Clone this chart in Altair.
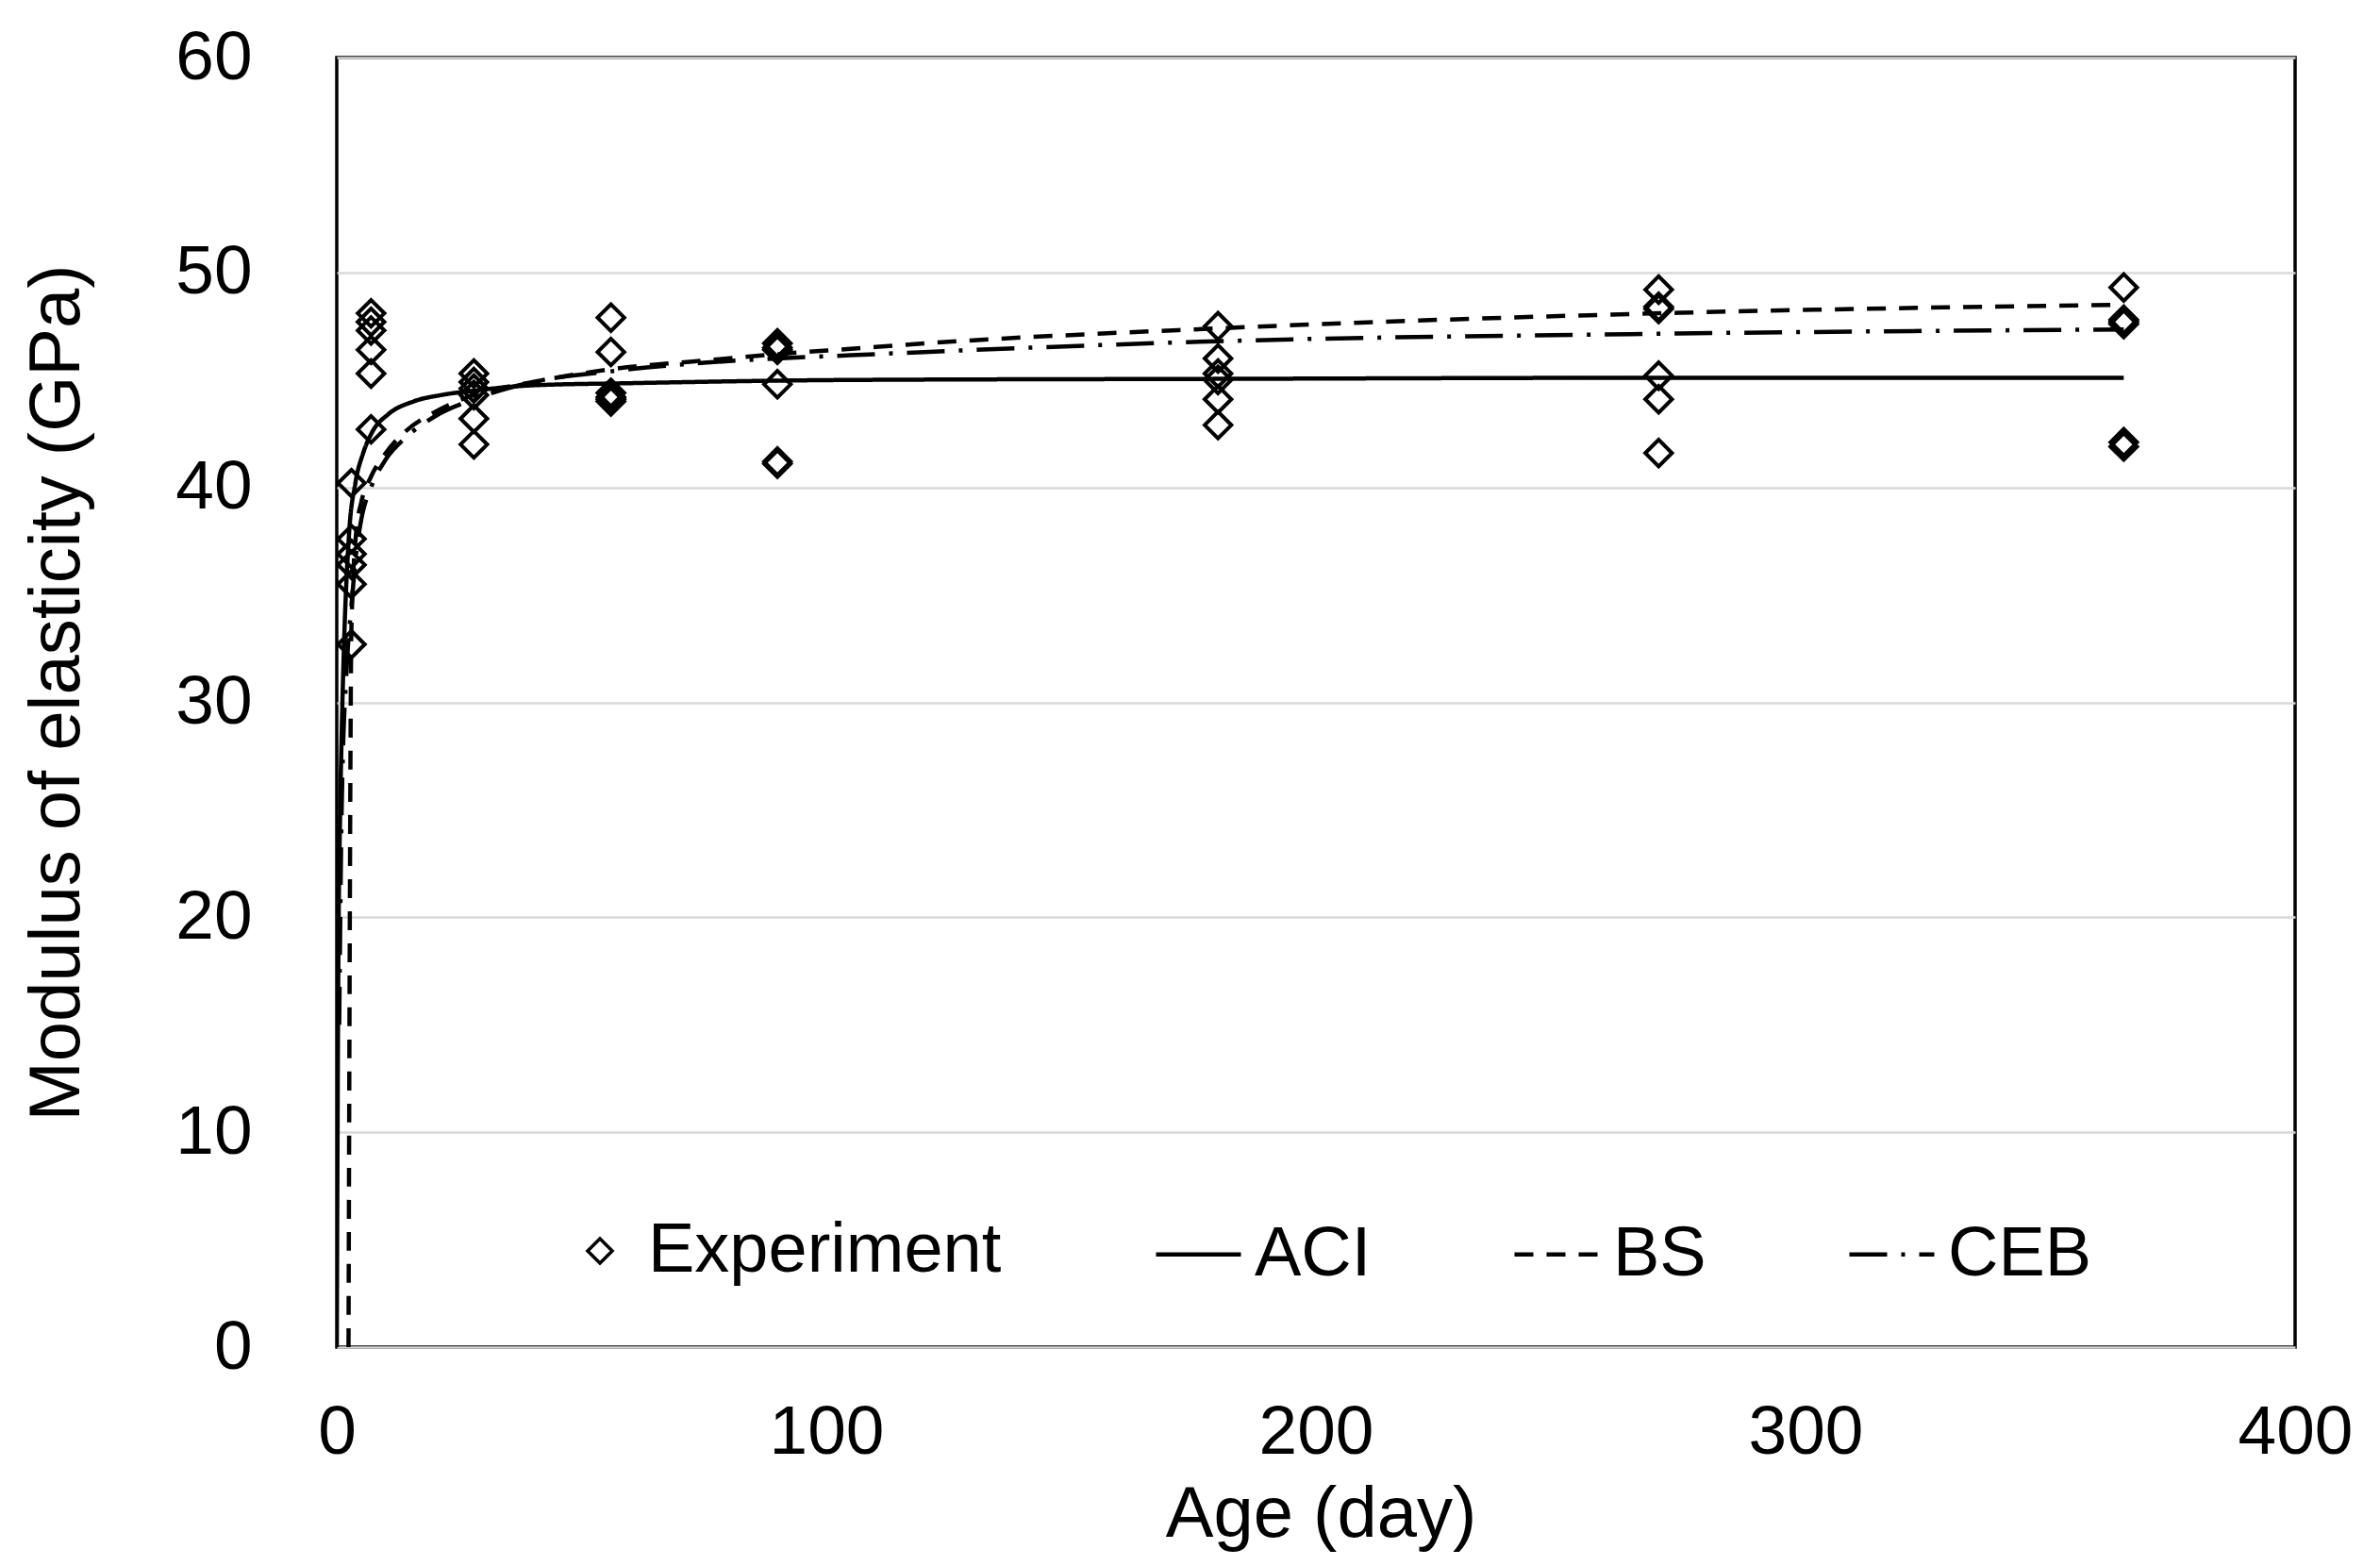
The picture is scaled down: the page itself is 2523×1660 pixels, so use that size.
import altair as alt
import pandas as pd

# ---------------- data ----------------
exp_age = ([3] * 6 + [7] * 6 + [28] * 6 + [56] * 6 + [90] * 6 +
           [180] * 6 + [270] * 6 + [365] * 6)
exp_E = [40.2, 37.6, 36.9, 36.4, 35.5, 32.7,
         48.1, 47.7, 47.3, 46.4, 45.3, 42.7,
         45.3, 44.9, 44.6, 44.3, 43.2, 42.0,
         47.9, 46.3, 44.4, 44.2, 44.1, 44.0,
         46.7, 46.5, 46.4, 44.8, 41.2, 41.1,
         47.5, 46.0, 45.3, 45.0, 44.1, 42.9,
         49.2, 48.4, 48.3, 45.2, 44.1, 41.6,
         49.3, 47.8, 47.7, 47.6, 42.1, 41.9]

aci_age = [0, 0.3, 0.7, 1, 1.5, 2.5, 3.8, 5.4, 7.3, 10.5, 15.7, 21.4, 28,
           40, 60, 105, 180, 270, 365]
aci_E = [0, 17, 25, 28.5, 32.8, 37.8, 40.2, 41.6, 42.6, 43.4, 44.0, 44.3, 44.5,
         44.75, 44.85, 45.0, 45.05, 45.1, 45.1]

bs_age = [2.4, 3, 4, 5, 7, 10, 14, 20, 28, 40, 56, 75, 90, 105, 120, 180, 270, 365]
bs_E = [0, 33.5, 38.0, 39.3, 40.5, 41.6, 42.6, 43.5, 44.3, 44.9, 45.5, 45.9,
        46.2, 46.45, 46.7, 47.4, 48.1, 48.5]

ceb_age = [0.5, 1, 2, 3, 4, 5, 7, 10, 14, 20, 28, 40, 56, 75, 90, 105, 120,
           180, 270, 365]
ceb_E = [15, 25, 31.5, 34.5, 37.0, 38.5, 40.0, 41.3, 42.3, 43.3, 44.1, 44.9,
         45.4, 45.8, 46.0, 46.15, 46.3, 46.8, 47.15, 47.35]

x_ticks = [0, 100, 200, 300, 400]
y_ticks = [0, 10, 20, 30, 40, 50, 60]

# ---------------- tables ----------------
exp_df = pd.DataFrame({"age": exp_age, "E": exp_E, "series": "Experiment"})
model_df = pd.concat([
    pd.DataFrame({"age": aci_age, "E": aci_E, "model": "ACI"}),
    pd.DataFrame({"age": bs_age, "E": bs_E, "model": "BS"}),
    pd.DataFrame({"age": ceb_age, "E": ceb_E, "model": "CEB"}),
], ignore_index=True)

FONT = "Liberation Sans"
FS = 73
TFS = 76
LFS = 74

x_enc = alt.X("age:Q", scale=alt.Scale(domain=[0, 400], nice=False),
              axis=alt.Axis(values=x_ticks, title="Age (day)", grid=False,
                            ticks=False, tickSize=0, domain=False,
                            labelFlush=False, labelOverlap=False,
                            labelPadding=54, labelFont=FONT, labelFontSize=FS,
                            labelColor="black", titleFont=FONT, titleFontSize=TFS,
                            titleFontWeight="normal", titleColor="black",
                            titleBaseline="alphabetic", titleX=1043, titleY=200))
y_enc = alt.Y("E:Q", scale=alt.Scale(domain=[0, 60], nice=False),
              axis=alt.Axis(values=y_ticks, title="Modulus of elasticity (GPa)",
                            grid=True, gridColor="#d9d9d9", gridWidth=2.5,
                            ticks=False, tickSize=0, domain=False,
                            labelFlush=False, labelOverlap=False,
                            labelPadding=90, labelFont=FONT, labelFontSize=FS,
                            labelColor="black", titleFont=FONT, titleFontSize=TFS,
                            titleFontWeight="normal", titleColor="black",
                            titleBaseline="alphabetic", titleX=-274, titleY=673))

lines = alt.Chart(model_df).mark_line(color="black", strokeWidth=4.5,
                                      interpolate="monotone", clip=True).encode(
    x=x_enc, y=y_enc,
    strokeDash=alt.StrokeDash(
        "model:N",
        scale=alt.Scale(domain=["ACI", "BS", "CEB"],
                        range=[[1, 0], [20, 14], [40, 15, 4, 15]]),
        legend=alt.Legend(title=None, orient="none", legendX=866, legendY=1221,
                          direction="horizontal", symbolType="stroke",
                          symbolSize=8100, symbolStrokeWidth=4.5,
                          symbolStrokeColor="black", labelOffset=12,
                          columnPadding=142, padding=0, labelFont=FONT,
                          labelFontSize=LFS, labelColor="black", labelLimit=1000)),
    order="age:Q",
)

points = alt.Chart(exp_df).mark_point(shape="diamond", filled=False, color="black",
                                      size=800, strokeWidth=4, opacity=1).encode(
    x="age:Q", y="E:Q",
    shape=alt.Shape(
        "series:N",
        scale=alt.Scale(domain=["Experiment"], range=["diamond"]),
        legend=alt.Legend(title=None, orient="none", legendX=242, legendY=1228,
                          direction="horizontal", symbolSize=680,
                          symbolStrokeWidth=3.5, symbolStrokeColor="black",
                          symbolFillColor="transparent", symbolOpacity=1,
                          labelOffset=14, padding=0, labelFont=FONT,
                          labelFontSize=LFS, labelColor="black", labelLimit=1000)),
)

chart = alt.layer(lines, points).properties(
    width=2076, height=1367,
    autosize=alt.AutoSizeParams(type="none"),
    padding={"left": 349, "top": 53, "right": 62, "bottom": 220},
    background="white",
).configure_view(stroke="black", strokeWidth=3.5)

chart.save("out.html", embed_options={"renderer": "svg", "actions": False})
